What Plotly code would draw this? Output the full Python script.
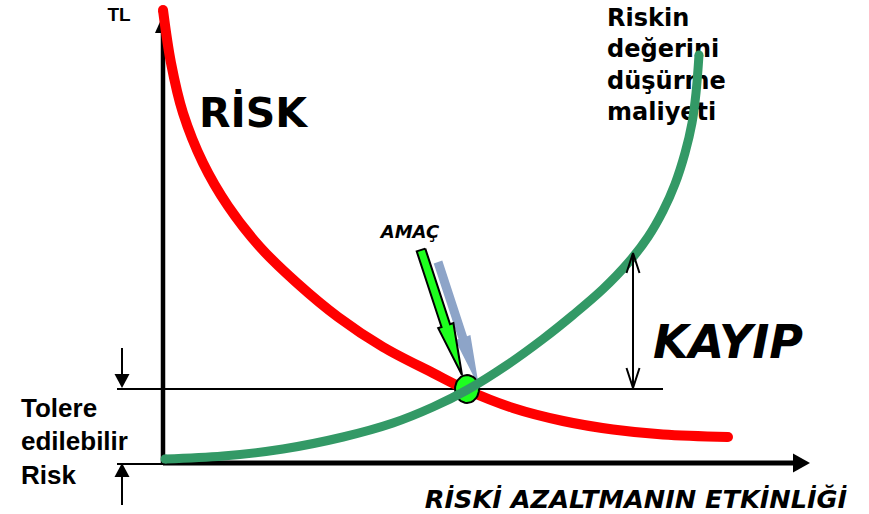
import math
import plotly.graph_objects as go

# ---- curve data (diagram units, origin at the axes corner) ----
risk_x = [0, 8, 20, 40, 65, 97, 134, 175, 220, 270, 304, 350, 400, 450, 500, 565]
risk_y = [453, 400, 350, 300, 257, 216, 180, 146, 116, 90, 73, 55, 42, 33.5, 28.5, 26]

cost_x = [2, 60, 120, 180, 230, 270, 304, 344, 380, 410, 440, 465, 485, 500, 512, 522, 529, 533, 536]
cost_y = [4, 7, 14, 26, 40, 56, 73, 98, 124, 148, 174, 200, 226, 252, 279, 310, 340, 370, 408]

# optimum point and tolerable-risk level
optimum = (304, 74)
tolerable_level = 74

# labels
label_axis_y = "TL"
label_risk = "RİSK"
label_cost = "Riskin<br>değerini<br>düşürme<br>maliyeti"
label_goal = "AMAÇ"
label_loss = "KAYIP"
label_tolerable = "Tolere<br>edilebilir<br>Risk"
label_axis_x = "RİSKİ AZALTMANIN ETKİNLİĞİ"

RED = "#FF0000"
GREEN = "#339966"
LIME = "#1EFF1E"
SHADOW = "#8DA4C8"
BLACK = "#000000"

W, H = 869, 514
X0, Y0 = 163, 463  # page position of the axes corner

fig = go.Figure()


def line(xs, ys, width, color):
    fig.add_trace(go.Scatter(x=xs, y=ys, mode="lines",
                             line=dict(color=color, width=width),
                             hoverinfo="skip", showlegend=False))


def poly(pts, color, outline=None, ow=0):
    xs = [p[0] for p in pts] + [pts[0][0]]
    ys = [p[1] for p in pts] + [pts[0][1]]
    fig.add_trace(go.Scatter(x=xs, y=ys, mode="lines", fill="toself",
                             fillcolor=color,
                             line=dict(color=outline or color, width=ow if outline else 0),
                             hoverinfo="skip", showlegend=False))


def head(tip, direction, length, half):
    ux, uy = direction
    n = math.hypot(ux, uy)
    ux, uy = ux / n, uy / n
    bx, by = tip[0] - ux * length, tip[1] - uy * length
    return [tip, (bx - uy * half, by + ux * half), (bx + uy * half, by - ux * half)]


def arrow_line(start, tip, width, hl, hw):
    ux, uy = tip[0] - start[0], tip[1] - start[1]
    n = math.hypot(ux, uy)
    end = (tip[0] - ux / n * hl * 0.8, tip[1] - uy / n * hl * 0.8)
    line([start[0], end[0]], [start[1], end[1]], width, BLACK)
    poly(head(tip, (ux, uy), hl, hw), BLACK)


def open_head(tip, direction, length, half, width):
    p = head(tip, direction, length, half)
    line([p[1][0], tip[0], p[2][0]], [p[1][1], tip[1], p[2][1]], width, BLACK)


def block_arrow(start, tip, shaft_half, head_half, head_len):
    ux, uy = tip[0] - start[0], tip[1] - start[1]
    n = math.hypot(ux, uy)
    ux, uy = ux / n, uy / n
    nx, ny = -uy, ux
    bx, by = tip[0] - ux * head_len, tip[1] - uy * head_len
    return [(start[0] + nx * shaft_half, start[1] + ny * shaft_half),
            (bx + nx * shaft_half, by + ny * shaft_half),
            (bx + nx * head_half, by + ny * head_half),
            tip,
            (bx - nx * head_half, by - ny * head_half),
            (bx - nx * shaft_half, by - ny * shaft_half),
            (start[0] - nx * shaft_half, start[1] - ny * shaft_half)]


def text(x, y, s, size, family, pos="middle center", italic=False):
    fig.add_trace(go.Scatter(x=[x], y=[y], mode="text", text=[s], textposition=pos,
                             textfont=dict(size=size, family=family, color=BLACK,
                                           weight="bold",
                                           style="italic" if italic else "normal"),
                             hoverinfo="skip", showlegend=False))


# ---- axes ----
line([0, 0], [0, 432], 4.5, BLACK)
poly(head((0, 448), (0, 1), 18, 8), BLACK)
line([0, 632], [0, 0], 5, BLACK)
poly(head((647, 0), (1, 0), 17, 9.5), BLACK)

# tolerable-risk level and its markers on the left
line([-46, 500], [tolerable_level, tolerable_level], 2, BLACK)
line([-46, 0], [-1, -1], 2, BLACK)
arrow_line((-41, 115), (-41, tolerable_level + 1), 2, 14, 7.5)
arrow_line((-41, -42), (-41, 0), 2, 14, 7.5)

# ---- labels (drawn under the curves) ----
text(-44, 447, label_axis_y, 19, "Liberation Sans")
text(90, 346, label_risk, 41, "DejaVu Sans")
text(444, 396, label_cost, 24, "DejaVu Sans", pos="middle right")
text(247, 230, label_goal, 18, "DejaVu Sans", italic=True)
text(565, 117, label_loss, 46, "DejaVu Sans", italic=True)
text(-142, 19, label_tolerable, 26, "Liberation Sans", pos="middle right")
text(473, -39, label_axis_x, 25.6, "DejaVu Sans", italic=True)

# ---- risk curve ----
fig.add_trace(go.Scatter(x=risk_x, y=risk_y, mode="lines",
                         line=dict(color=RED, width=10, shape="spline", smoothing=1.0),
                         hoverinfo="skip", showlegend=False))
fig.add_trace(go.Scatter(x=[risk_x[0], risk_x[-1]], y=[risk_y[0], risk_y[-1]], mode="markers",
                         marker=dict(color=RED, size=10), hoverinfo="skip", showlegend=False))

# ---- goal arrow with its shadow ----
goal_start, goal_tip = (258, 213), (299, 88)
arrow_pts = block_arrow(goal_start, goal_tip, 4.5, 8, 52)
poly([(x + 17, y - 12) for x, y in arrow_pts], SHADOW)
poly(arrow_pts, LIME, outline=BLACK, ow=2)

# ---- optimum point ----
ell = [(optimum[0] + 12 * math.cos(t / 36 * 2 * math.pi),
        optimum[1] + 14 * math.sin(t / 36 * 2 * math.pi)) for t in range(36)]
poly(ell, LIME, outline=BLACK, ow=2)

# ---- cost curve ----
fig.add_trace(go.Scatter(x=cost_x, y=cost_y, mode="lines",
                         line=dict(color=GREEN, width=9, shape="spline", smoothing=1.0),
                         hoverinfo="skip", showlegend=False))
fig.add_trace(go.Scatter(x=[cost_x[0], cost_x[-1]], y=[cost_y[0], cost_y[-1]], mode="markers",
                         marker=dict(color=GREEN, size=9), hoverinfo="skip", showlegend=False))

# ---- loss span ----
loss_x = 470
line([loss_x, loss_x], [77, 208], 2, BLACK)
open_head((loss_x, 210), (0, 1), 20, 6.5, 2)
open_head((loss_x, 75), (0, -1), 20, 6.5, 2)

fig.update_layout(
    width=W, height=H,
    margin=dict(l=0, r=0, t=0, b=0),
    paper_bgcolor="white", plot_bgcolor="white",
    xaxis=dict(range=[-X0, W - X0], visible=False, fixedrange=True),
    yaxis=dict(range=[Y0 - H, Y0], visible=False, fixedrange=True),
    showlegend=False,
)

fig.write_html("out.html")
